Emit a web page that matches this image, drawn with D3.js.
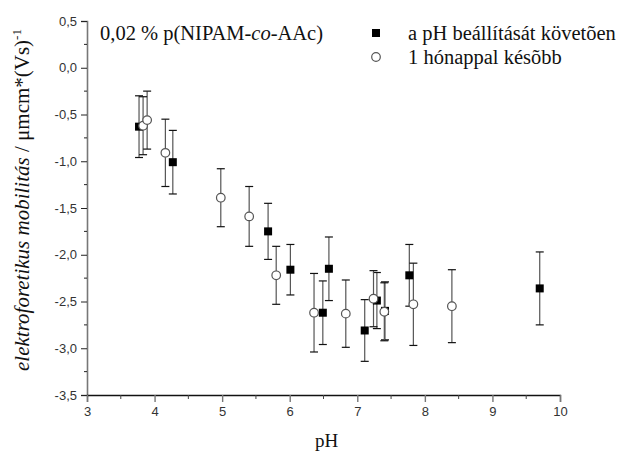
<!DOCTYPE html>
<html><head><meta charset="utf-8">
<script src="https://cdn.jsdelivr.net/npm/d3@7"></script>
<style>body{margin:0;background:#fff}svg{display:block}</style>
</head><body>
<script>
// Series A: "a pH beállítását követõen" (filled squares)
const phA   = [3.77, 4.27, 5.68, 6.01, 6.49, 6.58, 7.11, 7.29, 7.41, 7.77, 9.70];
const mobA  = [-0.63, -1.01, -1.75, -2.16, -2.62, -2.15, -2.81, -2.49, -2.60, -2.22, -2.36];
const errA  = [0.33, 0.34, 0.30, 0.27, 0.34, 0.34, 0.33, 0.30, 0.31, 0.33, 0.39];
// Series B: "1 hónappal késõbb" (open circles)
const phB   = [3.83, 3.89, 4.16, 4.98, 5.40, 5.80, 6.36, 6.83, 7.24, 7.40, 7.83, 8.40];
const mobB  = [-0.62, -0.56, -0.91, -1.39, -1.59, -2.22, -2.62, -2.63, -2.47, -2.61, -2.53, -2.55];
const errB  = [0.31, 0.31, 0.36, 0.31, 0.32, 0.31, 0.42, 0.36, 0.30, 0.31, 0.44, 0.39];
const xTicks = [3, 4, 5, 6, 7, 8, 9, 10];
const yTicks = [0.5, 0.0, -0.5, -1.0, -1.5, -2.0, -2.5, -3.0, -3.5];

const W = 625, H = 454;
const svg = d3.select("body").append("svg").attr("width", W).attr("height", H);
const x = d3.scaleLinear().domain([3, 10]).range([87, 560]);
const y = d3.scaleLinear().domain([-3.5, 0.5]).range([395, 21]);
const fmt = d => d3.format(".1f")(d).replace(".", ",").replace("−", "-");
const sans = "Liberation Sans, Arial, sans-serif";
const serif = "Liberation Serif, Times New Roman, serif";

// y axis
const yAxis = d3.axisLeft(y).tickValues(yTicks).tickFormat(fmt).tickSize(6).tickPadding(4);
const gy = svg.append("g").attr("transform", `translate(${x(3)},0)`).call(yAxis);
gy.select(".domain").attr("stroke", "#777").attr("stroke-width", 1.6);
gy.selectAll(".tick line").attr("stroke", "#222");
gy.selectAll(".tick text").attr("font-family", sans).attr("font-size", 13).attr("fill", "#333");
const yMinor = d3.range(-3.25, 0.5, 0.5);
svg.append("g").selectAll("line").data(yMinor).join("line")
  .attr("x1", x(3) - 3).attr("x2", x(3)).attr("y1", d => y(d)).attr("y2", d => y(d)).attr("stroke", "#222");

// x axis
const xAxis = d3.axisBottom(x).tickValues(xTicks).tickFormat(d3.format("d")).tickSize(7).tickPadding(5);
const gx = svg.append("g").attr("transform", `translate(0,${y(-3.5)})`).call(xAxis);
gx.select(".domain").attr("stroke", "#111").attr("stroke-width", 1.3);
gx.selectAll(".tick line").attr("stroke", "#777").attr("stroke-width", 1.4);
gx.selectAll(".tick text").attr("font-family", sans).attr("font-size", 13).attr("fill", "#333");
const xMinor = d3.range(3.5, 10, 1);
svg.append("g").selectAll("line").data(xMinor).join("line")
  .attr("x1", d => x(d)).attr("x2", d => x(d)).attr("y1", y(-3.5)).attr("y2", y(-3.5) + 4).attr("stroke", "#444");

// error bars
function errBars(px, py, pe, stroke) {
  const data = px.map((v, i) => ({x: v, y: py[i], e: pe[i]}));
  const g = svg.append("g");
  g.selectAll("line.v").data(data).join("line").attr("class", "v")
    .attr("x1", d => x(d.x)).attr("x2", d => x(d.x))
    .attr("y1", d => y(d.y + d.e)).attr("y2", d => y(d.y - d.e))
    .attr("stroke", stroke).attr("stroke-width", 1.2);
  ["t", "b"].forEach(k => {
    g.selectAll("line.c" + k).data(data).join("line").attr("class", "c" + k)
      .attr("x1", d => x(d.x) - 4).attr("x2", d => x(d.x) + 4)
      .attr("y1", d => y(k === "t" ? d.y + d.e : d.y - d.e))
      .attr("y2", d => y(k === "t" ? d.y + d.e : d.y - d.e))
      .attr("stroke", "#111").attr("stroke-width", 1.2);
  });
  return data;
}
const dA = errBars(phA, mobA, errA, "#555");
const dB = errBars(phB, mobB, errB, "#555");

svg.append("g").selectAll("rect").data(dA).join("rect")
  .attr("x", d => x(d.x) - 4).attr("y", d => y(d.y) - 4).attr("width", 8).attr("height", 8).attr("fill", "#000");
svg.append("g").selectAll("circle").data(dB).join("circle")
  .attr("cx", d => x(d.x)).attr("cy", d => y(d.y)).attr("r", 4.3)
  .attr("fill", "#fff").attr("stroke", "#555").attr("stroke-width", 1.2);

// title
const t = svg.append("text").attr("x", 100).attr("y", 40).attr("font-family", serif).attr("font-size", 20.5).attr("fill", "#111");
t.append("tspan").text("0,02 % p(NIPAM-");
t.append("tspan").attr("font-style", "italic").text("co");
t.append("tspan").text("-AAc)");

// legend
svg.append("rect").attr("x", 372).attr("y", 29).attr("width", 8).attr("height", 8).attr("fill", "#000");
svg.append("text").attr("x", 408).attr("y", 40).attr("font-family", serif).attr("font-size", 20.5).attr("fill", "#111").text("a pH beállítását követõen");
svg.append("circle").attr("cx", 376).attr("cy", 57).attr("r", 4.3).attr("fill", "#fff").attr("stroke", "#555").attr("stroke-width", 1.2);
svg.append("text").attr("x", 408).attr("y", 64).attr("font-family", serif).attr("font-size", 20.5).attr("fill", "#111").text("1 hónappal késõbb");

// axis titles
svg.append("text").attr("x", (x(3) + x(10)) / 2 + 3).attr("y", 447).attr("text-anchor", "middle")
  .attr("font-family", serif).attr("font-size", 19).attr("fill", "#111").text("pH");
const yt = svg.append("text").attr("transform", `translate(29,${200}) rotate(-90)`).attr("text-anchor", "middle")
  .attr("font-family", serif).attr("font-size", 21).attr("fill", "#111");
yt.append("tspan").attr("font-style", "italic").text("elektroforetikus mobilitás");
yt.append("tspan").text(" / μmcm*(Vs)");
yt.append("tspan").attr("font-size", 13).attr("dy", -8).text("-1");
</script>
</body></html>
